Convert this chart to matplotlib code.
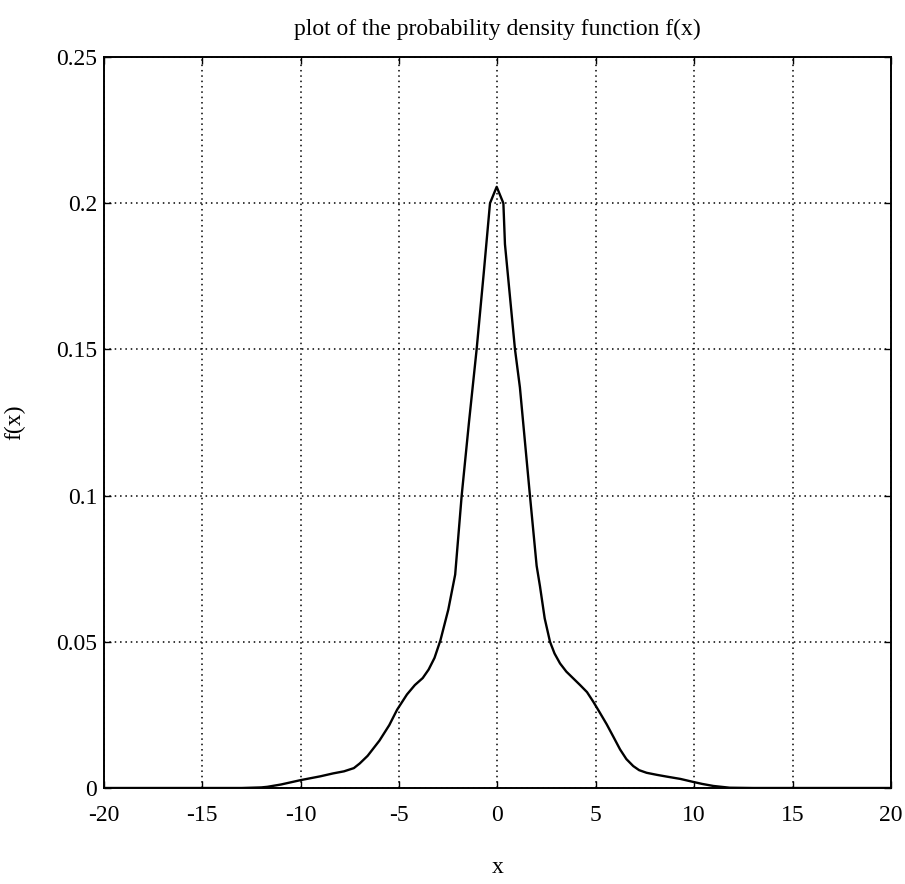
import numpy as np
import matplotlib
matplotlib.use("Agg")
import matplotlib.pyplot as plt

# points (x, f(x))
x_vals = [-20, -15, -13, -12, -11.7, -11, -10, -9, -8.35, -7.8, -7.3, -7.0,
          -6.6, -6.0, -5.5, -5.1, -4.6, -4.2, -3.8, -3.5, -3.2, -2.9, -2.5,
          -2.15, -1.82, -1.45, -1.06, -0.7, -0.38, -0.04, 0.30, 0.38, 0.89,
          1.14, 1.65, 1.99, 2.16, 2.4, 2.67, 2.9, 3.18, 3.5, 3.85, 4.2, 4.55,
          4.87, 5.2, 5.55, 5.9, 6.23, 6.55, 6.9, 7.2, 7.58, 8.1, 8.6, 9.3,
          9.87, 10.4, 10.97, 11.8, 13, 20]
f_vals = [0, 0, 0, 0.0002, 0.0004, 0.0012, 0.0027, 0.0040, 0.0050, 0.0057,
          0.0068, 0.0084, 0.0110, 0.0162, 0.0215, 0.0268, 0.0320, 0.0352,
          0.0376, 0.0405, 0.0445, 0.0505, 0.0610, 0.0730, 0.1000, 0.125,
          0.150, 0.176, 0.200, 0.2056, 0.200, 0.186, 0.150, 0.137, 0.100,
          0.076, 0.069, 0.058, 0.050, 0.046, 0.0426, 0.0398, 0.0375, 0.0352,
          0.0328, 0.0295, 0.0258, 0.0218, 0.0174, 0.0132, 0.0099, 0.0075,
          0.0061, 0.0052, 0.0045, 0.0039, 0.0031, 0.0022, 0.0014, 0.0007,
          0.0001, 0, 0]

xticks = [-20, -15, -10, -5, 0, 5, 10, 15, 20]
yticks = [0, 0.05, 0.1, 0.15, 0.2, 0.25]
ytick_labels = ['0', '0.05', '0.1', '0.15', '0.2', '0.25']

plt.rcParams['font.family'] = ['Liberation Serif', 'DejaVu Serif']

fig = plt.figure(figsize=(9.05, 8.84), dpi=100)
ax = fig.add_axes([0.1149, 0.1086, 0.8696, 0.8269])

ax.plot(x_vals, f_vals, color='black', linewidth=1.7,
        solid_joinstyle='round', solid_capstyle='round')

ax.set_xlim(-20, 20)
ax.set_ylim(0, 0.25)
ax.set_xticks(xticks)
ax.set_xticklabels([str(t) for t in xticks])
ax.set_yticks(yticks)
ax.set_yticklabels(ytick_labels)
ax.tick_params(direction='in', top=True, right=True, length=5, width=1,
               labelsize=17)
ax.tick_params(axis='x', pad=12)
ax.tick_params(axis='y', pad=5)
for s in ax.spines.values():
    s.set_linewidth(1.4)
ax.grid(True, color='black', linestyle=(0, (1, 2.5)), linewidth=1.1)

ax.set_title('plot of the probability density function f(x)', fontsize=17, pad=16)
ax.set_xlabel('x', fontsize=17)
ax.set_ylabel('f(x)', fontsize=17)
ax.xaxis.set_label_coords(0.5, -0.095)
ax.yaxis.set_label_coords(-0.10, 0.5)

fig.savefig('out.png', dpi=100)
